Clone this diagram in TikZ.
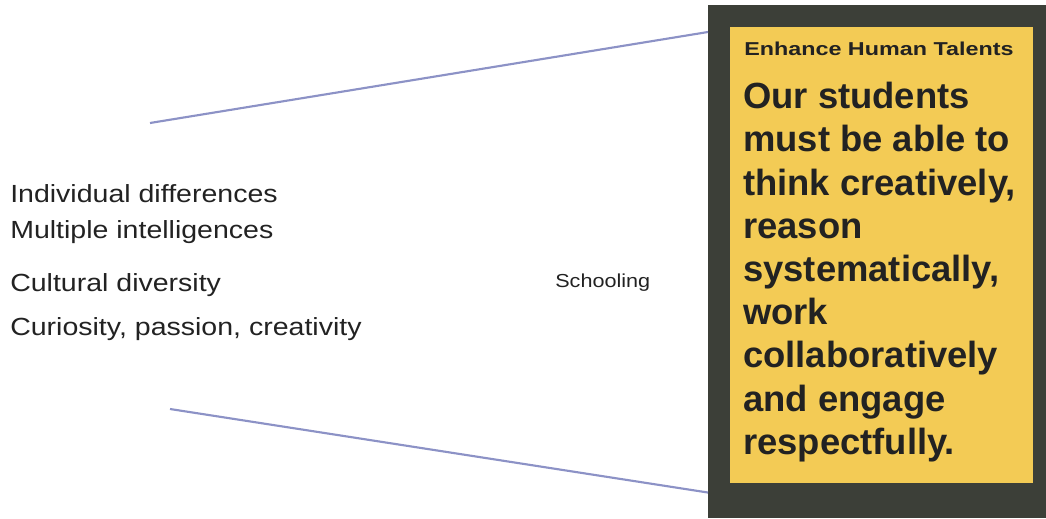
\documentclass[tikz,border=0pt]{standalone}
\usepackage{fontspec}
\setmainfont{Liberation Sans}
\newfontfamily\sidefont[FakeStretch=1.15]{Liberation Sans}
\newfontfamily\headfont[FakeStretch=1.25]{Liberation Sans}
\usepackage{xcolor}
\usepackage{tikz}
\usetikzlibrary{calc}
\definecolor{frameC}{HTML}{3C3F38}
\definecolor{panelC}{HTML}{F3CB55}
\definecolor{lineC}{HTML}{8C92C6}
\definecolor{inkC}{HTML}{222222}

\begin{document}
\begin{tikzpicture}[x=0.75pt,y=-0.75pt]
\tikzstyle{side}=[inner sep=0pt, anchor=base west, text=inkC, font=\sidefont\fontsize{18.6}{22}\selectfont]
\tikzstyle{small}=[inner sep=0pt, anchor=base west, text=inkC, font=\sidefont\fontsize{14.1}{17}\selectfont]
\tikzstyle{funnel}=[draw=lineC, line width=1.6pt]
\useasboundingbox (0,0) rectangle (1046,518);
%
\node[fill=frameC, inner sep=0pt, anchor=north west, minimum width=253.5pt, minimum height=384.75pt](frame) at (708,5){};
\node[fill=panelC, inner sep=0pt, anchor=north west, minimum width=227.25pt, minimum height=342pt](panel) at (730,27){};
%
\node[inner sep=0pt, anchor=base west, text=inkC, font=\headfont\bfseries\fontsize{14}{17}\selectfont](headline) at (744,55){Enhance Human Talents};
\node[inner sep=0pt, anchor=north west, align=left, text=inkC, font=\bfseries\fontsize{27.3}{32.4}\selectfont](message) at (743,82){Our students\\must be able to\\think creatively,\\reason\\systematically,\\work\\collaboratively\\and engage\\respectfully.};
%
\node[side](diff) at (10,202){Individual differences};
\node[side](multi) at (10,238){Multiple intelligences};
\node[side](culture) at (10,291){Cultural diversity};
\node[side](curious) at (10,335){Curiosity, passion, creativity};
%
\node[small](school) at (555,287){Schooling};
%
\coordinate (upstart) at (150,123);
\coordinate (lowstart) at (170,409);
\draw[funnel] (upstart) -- ($(frame.north west)+(0,27)$);
\draw[funnel] (lowstart) -- ($(frame.south west)+(0,-26)$);
%
\end{tikzpicture}
\end{document}
